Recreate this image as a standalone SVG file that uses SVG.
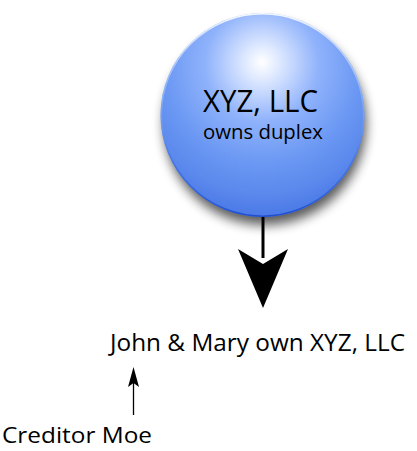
<svg xmlns="http://www.w3.org/2000/svg" width="417" height="451" viewBox="0 0 417 451">
<style>
  .t { font-family: "Open Sans", "Noto Sans", "Liberation Sans", sans-serif; fill: #000; }
  .ln { stroke: #000; fill: none; }
  .hd { fill: #000; stroke: none; }
</style>
<defs>
  <radialGradient id="ball" cx="262" cy="68" r="150" fx="262" fy="62" gradientUnits="userSpaceOnUse">
    <stop offset="0" stop-color="#ffffff"/>
    <stop offset="0.12" stop-color="#dde8ff"/>
    <stop offset="0.38" stop-color="#8fb2fb"/>
    <stop offset="0.65" stop-color="#6b98f3"/>
    <stop offset="0.85" stop-color="#5a88ec"/>
    <stop offset="1" stop-color="#4a78e6"/>
  </radialGradient>
  <linearGradient id="rim" x1="0" y1="0" x2="0" y2="1">
    <stop offset="0" stop-color="#ffffff" stop-opacity="0.9"/>
    <stop offset="0.35" stop-color="#cfe0ff" stop-opacity="0.4"/>
    <stop offset="0.7" stop-color="#3e6fe0" stop-opacity="0.5"/>
    <stop offset="1" stop-color="#1f4fcf" stop-opacity="1"/>
  </linearGradient>
  <filter id="shadow" x="-30%" y="-30%" width="160%" height="170%">
    <feGaussianBlur stdDeviation="6"/>
  </filter>
</defs>

<g id="connectors">
  <g id="arrow-main">
    <line class="ln" x1="263" y1="216" x2="263" y2="258" stroke-width="3"/>
    <polygon class="hd" points="238,249 263,308 288,249 263,264"/>
  </g>
  <g id="arrow-creditor">
    <line class="ln" x1="133.5" y1="415" x2="133.5" y2="382" stroke-width="1.3"/>
    <polygon class="hd" points="128,387 133.5,367 139,387 133.5,383"/>
  </g>
</g>

<g id="node-xyz">
  <circle cx="265" cy="124" r="101" fill="#000" opacity="0.65" filter="url(#shadow)"/>
  <circle cx="262.5" cy="115" r="102" fill="url(#ball)"/>
  <circle cx="262.5" cy="115" r="101.2" fill="none" stroke="url(#rim)" stroke-width="1.6"/>
  <text class="t" x="260.5" y="112" font-size="31" text-anchor="middle" textLength="115" lengthAdjust="spacingAndGlyphs">XYZ, LLC</text>
  <text class="t" x="263" y="139" font-size="20" text-anchor="middle" textLength="120" lengthAdjust="spacingAndGlyphs">owns duplex</text>
</g>

<g id="node-john-mary">
  <text class="t" x="110" y="351" font-size="24" textLength="295" lengthAdjust="spacingAndGlyphs">John &amp; Mary own XYZ, LLC</text>
</g>

<g id="node-creditor">
  <text class="t" x="2" y="443" font-size="22.5" textLength="150" lengthAdjust="spacingAndGlyphs">Creditor Moe</text>
</g>
</svg>
